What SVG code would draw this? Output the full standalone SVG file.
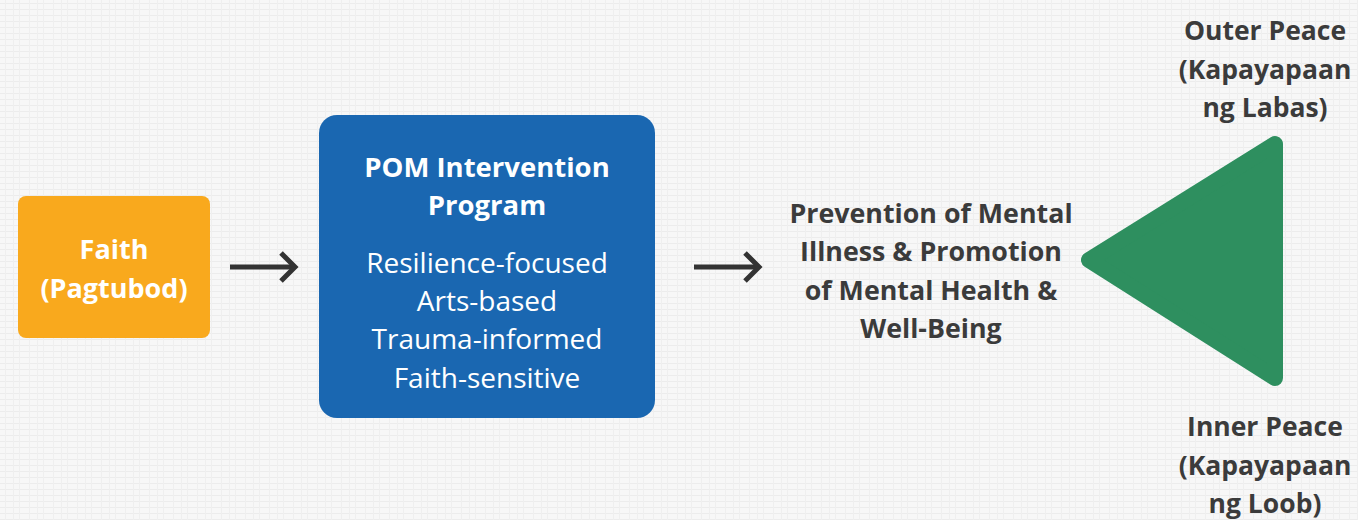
<svg xmlns="http://www.w3.org/2000/svg" width="1358" height="520" viewBox="0 0 1358 520">
  <defs>
    <pattern id="tex" width="24" height="12" patternUnits="userSpaceOnUse">
      <rect width="24" height="12" fill="#f7f7f7"/>
      <path d="M0 3.5H24M0 9.5H24" stroke="#ececec" stroke-width="1"/>
      <path d="M5.5 0V12M13.5 0V12M19.5 0V12" stroke="#efefef" stroke-width="1"/>
    </pattern>
    <style>
      .w { font-family: "Open Sans", "Liberation Sans", sans-serif; fill: #ffffff; text-anchor: middle; }
      .b { font-weight: 700; }
      .d { font-family: "Open Sans", "Liberation Sans", sans-serif; fill: #3b3b3b; font-weight: 700; text-anchor: middle; }
      .arr { fill: none; stroke: #333333; stroke-width: 5; stroke-linecap: butt; stroke-linejoin: miter; }
    </style>
  </defs>
  <rect width="1358" height="520" fill="url(#tex)"/>

  <g id="faith">
    <rect x="18" y="196" width="192" height="142" rx="8" fill="#F9A91D"/>
    <text class="w b" x="114" y="259" font-size="27">Faith</text>
    <text class="w b" x="114" y="298" font-size="27">(Pagtubod)</text>
  </g>

  <g id="pom">
    <rect x="319" y="115" width="336" height="303" rx="18" fill="#1A67B1"/>
    <text class="w b" x="487" y="177" font-size="27.5">POM Intervention</text>
    <text class="w b" x="487" y="215" font-size="27.5">Program</text>
    <text class="w" x="487" y="273" font-size="28">Resilience-focused</text>
    <text class="w" x="487" y="311" font-size="28">Arts-based</text>
    <text class="w" x="487" y="349" font-size="28">Trauma-informed</text>
    <text class="w" x="487" y="388" font-size="28">Faith-sensitive</text>
  </g>

  <g id="outcome">
    <text class="d" x="931" y="223" font-size="26.8">Prevention of Mental</text>
    <text class="d" x="931" y="261" font-size="26.8">Illness &amp; Promotion</text>
    <text class="d" x="931" y="300" font-size="26.8">of Mental Health &amp;</text>
    <text class="d" x="931" y="338" font-size="26.8">Well-Being</text>
  </g>

  <g id="peace">
    <polygon points="1089,260 1275,144 1275,378" fill="#2E8F5F" stroke="#2E8F5F" stroke-width="16" stroke-linejoin="round"/>
  </g>

  <g id="outer">
    <text class="d" x="1265" y="40" font-size="26.5">Outer Peace</text>
    <text class="d" x="1265" y="79" font-size="26.5">(Kapayapaan</text>
    <text class="d" x="1265" y="117" font-size="26.5">ng Labas)</text>
  </g>

  <g id="inner">
    <text class="d" x="1265" y="436" font-size="26.5">Inner Peace</text>
    <text class="d" x="1265" y="475" font-size="26.5">(Kapayapaan</text>
    <text class="d" x="1265" y="513" font-size="26.5">ng Loob)</text>
  </g>

  <g id="connectors">
    <path class="arr" d="M230 267 H295"/>
    <path class="arr" d="M281 253 L295 267 L281 281"/>
    <path class="arr" d="M694 267 H759"/>
    <path class="arr" d="M745 253 L759 267 L745 281"/>
  </g>
</svg>
